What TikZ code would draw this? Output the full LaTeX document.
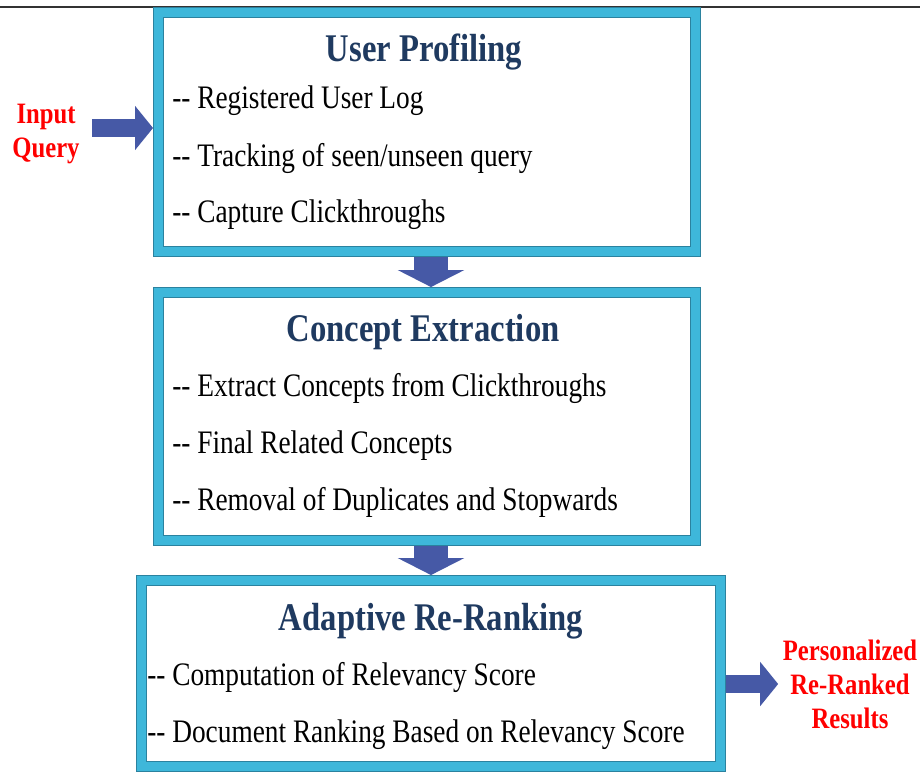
\documentclass[tikz,border=0pt]{standalone}
\usepackage{fontspec}
\setmainfont{Liberation Serif}
\usepackage{graphicx}
\usepackage{tikz}
\usetikzlibrary{arrows.meta}

\definecolor{framecyan}{HTML}{3EB7DA}
\definecolor{frameedge}{HTML}{2B829F}
\definecolor{headblue}{HTML}{1F3A60}
\definecolor{arrowblue}{HTML}{4659A6}

% two separate hyphens, no en dash ligature
\newcommand{\itemdash}{-\kern0pt-}
% the lettering is set a little taller than wide
\newcommand{\tall}[1]{\scalebox{1}[1.2]{#1}}

\tikzset{
  stagebox/.style={rectangle, draw=frameedge, line width=0.6pt,
    double=framecyan, double distance=6.6pt, fill=white,
    inner sep=0pt, outer sep=4.1pt},
  stagetitle/.style={anchor=base, text=headblue,
    font=\fontsize{24.5}{28}\selectfont\bfseries},
  stageitem/.style={anchor=base west, inner sep=0pt,
    font=\fontsize{20.5}{24}\selectfont},
  ioword/.style={align=center, text=red,
    font=\fontsize{18.5}{25.5}\selectfont\bfseries},
  sidearrow/.style={draw=arrowblue, line width=13.5pt,
    -{Triangle[length=13.5pt, width=32.5pt]}},
  downarrow/.style={draw=arrowblue, line width=25pt,
    -{Triangle[length=12.75pt, width=49.5pt]}}
}

\begin{document}
\begin{tikzpicture}[x=0.75pt, y=-0.75pt]
  \useasboundingbox (0,0) rectangle (920,772);
  \draw[black!80, line width=1.2pt] (0,7) -- (920,7);

  % the three stages
  \node[stagebox, minimum width=402.75pt, minimum height=179.25pt] (prof) at (427,132) {};
  \node[stagebox, minimum width=402.75pt, minimum height=186pt] (conc) at (427,416.5) {};
  \node[stagebox, minimum width=434.25pt, minimum height=139.5pt] (rank) at (431,673.5) {};

  \node[stagetitle] (proft) at (424,61) {\tall{User Profiling}};
  \node[stageitem] (prof1) at (172,108) {\tall{\itemdash{} Registered User Log}};
  \node[stageitem] (prof2) at (172,166) {\tall{\itemdash{} Tracking of seen/unseen query}};
  \node[stageitem] (prof3) at (172,222) {\tall{\itemdash{} Capture Clickthroughs}};

  \node[stagetitle] (conct) at (423,341) {\tall{Concept Extraction}};
  \node[stageitem] (conc1) at (172,396) {\tall{\itemdash{} Extract Concepts from Clickthroughs}};
  \node[stageitem] (conc2) at (172,453) {\tall{\itemdash{} Final Related Concepts}};
  \node[stageitem] (conc3) at (172,510) {\tall{\itemdash{} Removal of Duplicates and Stopwards}};

  \node[stagetitle] (rankt) at (431,630) {\tall{Adaptive Re-Ranking}};
  \node[stageitem] (rank1) at (147,685) {\tall{\itemdash{} Computation of Relevancy Score}};
  \node[stageitem] (rank2) at (147,742) {\tall{\itemdash{} Document Ranking Based on Relevancy Score}};

  % input and output
  \node[ioword] (inq) at (46,134) {\tall{Input}\\\tall{Query}};
  \node[ioword] (res) at (850,684) {\tall{Personalized}\\\tall{Re-Ranked}\\\tall{Results}};

  \draw[sidearrow] ([xshift=6pt,yshift=4.5pt]inq.east) -- ([yshift=4.5pt]inq.east -| prof.west);
  \draw[downarrow] ([xshift=3pt]prof.south) -- ([xshift=3pt]conc.north);
  \draw[downarrow] ([xshift=3pt]conc.south) -- ([xshift=3pt]conc.south |- rank.north);
  \draw[sidearrow] (rank.east |- res.west) -- (res.west);
\end{tikzpicture}
\end{document}
